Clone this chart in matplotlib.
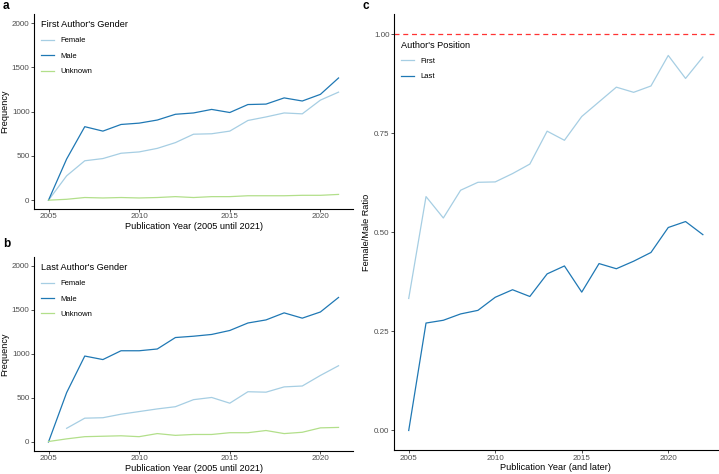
import numpy as np
import matplotlib
matplotlib.use('Agg')
import matplotlib.pyplot as plt

plt.rcParams['font.family'] = ['Liberation Sans', 'DejaVu Sans']

years = list(range(2005, 2022))
years_ratio = list(range(2005, 2023))

# first author counts
first_female = [0, 275, 445, 470, 530, 545, 585, 650, 745, 750, 780, 900, 940, 985, 975, 1130, 1220]
first_male = [0, 465, 830, 780, 855, 870, 905, 970, 985, 1025, 990, 1080, 1085, 1155, 1120, 1195, 1380]
first_unknown = [0, 10, 30, 25, 30, 25, 30, 40, 30, 40, 40, 50, 50, 50, 55, 55, 65]

# last author counts (no female last author in 2005)
last_female = [np.nan, 155, 270, 275, 315, 345, 375, 400, 480, 505, 440, 570, 565, 625, 635, 755, 865]
last_male = [0, 560, 975, 935, 1035, 1035, 1055, 1185, 1200, 1220, 1265, 1350, 1385, 1465, 1405, 1475, 1640]
last_unknown = [5, 35, 60, 65, 70, 60, 95, 75, 85, 85, 105, 105, 130, 95, 110, 160, 165]

# female/male ratio
ratio_first = [0.333, 0.590, 0.536, 0.606, 0.626, 0.627, 0.648, 0.672, 0.755, 0.732, 0.792,
               0.829, 0.866, 0.853, 0.869, 0.946, 0.888, 0.942]
ratio_last = [0.0, 0.271, 0.278, 0.294, 0.303, 0.336, 0.355, 0.338, 0.395, 0.415, 0.349,
              0.421, 0.408, 0.427, 0.449, 0.512, 0.527, 0.494]

c_female = '#a6cee3'
c_male = '#1f78b4'
c_unknown = '#b2df8a'

tick_col = '#4d4d4d'
title_size = 6.6
tick_size = 5.8


def style_axes(ax):
    for s in ['top', 'right']:
        ax.spines[s].set_visible(False)
    for s in ['left', 'bottom']:
        ax.spines[s].set_linewidth(0.8)
        ax.spines[s].set_color('black')
    ax.tick_params(axis='both', labelsize=tick_size, labelcolor=tick_col, color='#333333',
                   length=2, width=0.6, pad=1.2)


def add_legend(ax, title, x, y):
    leg = ax.legend(title=title, loc='upper left', bbox_to_anchor=(x, y), frameon=False,
                    fontsize=5.5, title_fontsize=title_size, handlelength=1.7, handletextpad=0.9,
                    labelspacing=1.05)
    leg._legend_box.align = 'left'
    return leg


fig = plt.figure(figsize=(7.19, 4.74), dpi=100)

# panel a
ax1 = fig.add_axes([0.0473, 0.559, 0.4437, 0.411])
ax1.plot(years, first_female, color=c_female, lw=0.9, label='Female')
ax1.plot(years, first_male, color=c_male, lw=0.9, label='Male')
ax1.plot(years, first_unknown, color=c_unknown, lw=0.9, label='Unknown')
ax1.set_xlim(2004.2, 2021.8)
ax1.set_ylim(-100, 2100)
ax1.set_xticks([2005, 2010, 2015, 2020])
ax1.set_yticks([0, 500, 1000, 1500, 2000])
ax1.set_xlabel('Publication Year (2005 until 2021)', fontsize=title_size, labelpad=1)
ax1.set_ylabel('Frequency', fontsize=title_size, labelpad=2)
style_axes(ax1)
add_legend(ax1, "First Author's Gender", 0.0, 1.005)

# panel b
ax2 = fig.add_axes([0.0473, 0.049, 0.4437, 0.409])
ax2.plot(years, last_female, color=c_female, lw=0.9, label='Female')
ax2.plot(years, last_male, color=c_male, lw=0.9, label='Male')
ax2.plot(years, last_unknown, color=c_unknown, lw=0.9, label='Unknown')
ax2.set_xlim(2004.2, 2021.8)
ax2.set_ylim(-100, 2100)
ax2.set_xticks([2005, 2010, 2015, 2020])
ax2.set_yticks([0, 500, 1000, 1500, 2000])
ax2.set_xlabel('Publication Year (2005 until 2021)', fontsize=title_size, labelpad=1)
ax2.set_ylabel('Frequency', fontsize=title_size, labelpad=2)
style_axes(ax2)
add_legend(ax2, "Last Author's Gender", 0.0, 1.005)

# panel c
ax3 = fig.add_axes([0.548, 0.050, 0.450, 0.920])
ax3.axhline(1.0, color='#ff3333', lw=0.9, ls=(0, (4, 3)))
ax3.plot(years_ratio, ratio_first, color=c_female, lw=0.9, label='First')
ax3.plot(years_ratio, ratio_last, color=c_male, lw=0.9, label='Last')
ax3.set_xlim(2004.15, 2022.85)
ax3.set_ylim(-0.05, 1.05)
ax3.set_xticks([2005, 2010, 2015, 2020])
ax3.set_yticks([0, 0.25, 0.5, 0.75, 1.0])
ax3.set_yticklabels(['0.00', '0.25', '0.50', '0.75', '1.00'])
ax3.set_xlabel('Publication Year (and later)', fontsize=title_size, labelpad=1)
ax3.set_ylabel('Female/Male Ratio', fontsize=title_size, labelpad=2)
style_axes(ax3)
add_legend(ax3, "Author's Position", 0.0, 0.955)

fig.text(0.004, 0.999, 'a', fontsize=8.5, fontweight='bold', va='top')
fig.text(0.004, 0.497, 'b', fontsize=8.5, fontweight='bold', va='top')
fig.text(0.504, 0.999, 'c', fontsize=8.5, fontweight='bold', va='top')

fig.savefig('out.png', dpi=100)
